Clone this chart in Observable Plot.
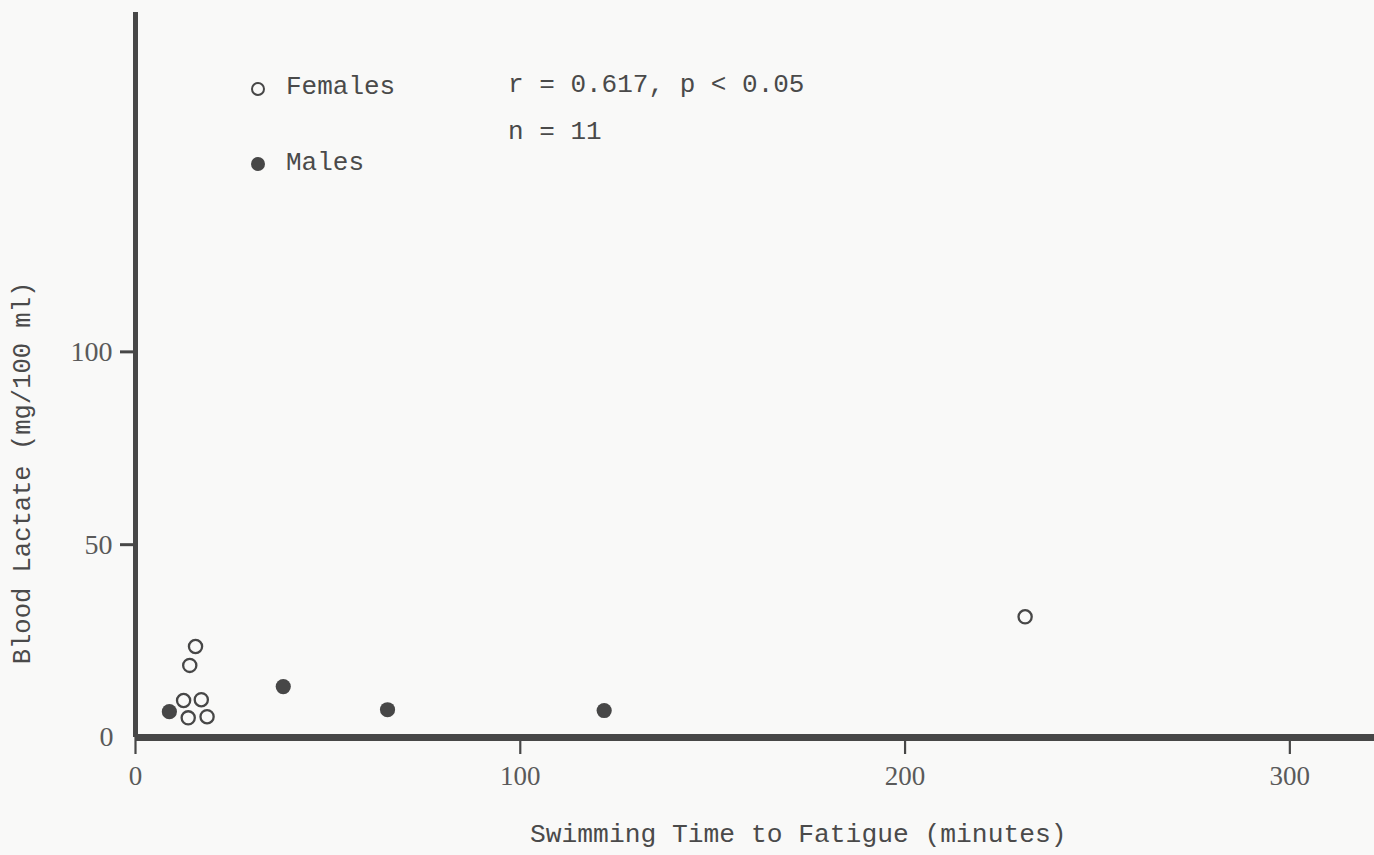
<!DOCTYPE html>
<html>
<head>
<meta charset="utf-8">
<script src="https://cdn.jsdelivr.net/npm/d3@7"></script>
<script src="https://cdn.jsdelivr.net/npm/@observablehq/plot@0.6"></script>
<style>
  html, body { margin: 0; padding: 0; background: #f9f9f8; }
  #wrap { position: relative; width: 1374px; height: 855px; overflow: hidden; }
  .note { position: absolute; font-family: "Liberation Mono", monospace; font-size: 26px; color: #4a4a4a; white-space: pre; line-height: 1; }
  .sym { position: absolute; border-radius: 50%; box-sizing: border-box; }
</style>
</head>
<body>
<div id="wrap"></div>
<script>
// Data
const femalesTime = [15.6, 14.1, 12.5, 17.1, 13.7, 18.6, 231.2];
const femalesLactate = [23.6, 18.7, 9.6, 9.8, 5.1, 5.4, 31.3];
const malesTime = [8.8, 38.4, 65.5, 121.8];
const malesLactate = [6.7, 13.2, 7.2, 7.0];
const xTicks = [0, 100, 200, 300];
const yTicks = [50, 100];
const legendLabels = ["Females", "Males"];
const statsText = ["r = 0.617, p < 0.05", "n = 11"];
const xTitle = "Swimming Time to Fatigue (minutes)";
const yTitle = "Blood Lactate (mg/100 ml)";

const females = femalesTime.map((t, i) => ({t, l: femalesLactate[i]}));
const males = malesTime.map((t, i) => ({t, l: malesLactate[i]}));

const ink = "#474747";
const tickInk = "#5a5a5a";
const chart = Plot.plot({
  width: 1374,
  height: 855,
  marginLeft: 135,
  marginRight: 0,
  marginTop: 12,
  marginBottom: 118,
  style: {background: "transparent", overflow: "visible"},
  x: {domain: [0, 322]},
  y: {domain: [0, 188]},
  marks: [
    Plot.axisX({ticks: xTicks, tickSize: 17, tickPadding: 11, tickFormat: d => String(d), strokeWidth: 2.2, stroke: ink,
      fontFamily: "Liberation Serif", fontSize: 27, fill: tickInk, label: null}),
    Plot.axisY({ticks: yTicks, tickSize: 15, tickPadding: 8, tickFormat: d => String(d), strokeWidth: 3, stroke: ink,
      fontFamily: "Liberation Serif", fontSize: 28, fill: tickInk, label: null}),
    Plot.axisY({ticks: [0], tickSize: 0, tickPadding: 22, tickFormat: d => String(d),
      fontFamily: "Liberation Serif", fontSize: 28, fill: tickInk, label: null}),
    Plot.ruleY([0], {stroke: ink, strokeWidth: 7}),
    Plot.ruleX([0], {y1: 0, y2: 188, stroke: ink, strokeWidth: 5}),
    Plot.dot(females, {x: "t", y: "l", r: 6.6, stroke: ink, strokeWidth: 2.3, fill: "none"}),
    Plot.dot(males, {x: "t", y: "l", r: 7.6, fill: ink, stroke: "none"})
  ]
});
const wrap = document.getElementById("wrap");
wrap.appendChild(chart);

// Legend, statistics and axis titles (overlay text)
function addNote(text, left, top, rotate) {
  const d = document.createElement("div");
  d.className = "note"; d.textContent = text;
  d.style.left = left + "px"; d.style.top = top + "px";
  if (rotate) { d.style.transform = "translate(-50%, -50%) rotate(-90deg)"; }
  wrap.appendChild(d);
  return d;
}
function addSym(filled, cx, cy, r) {
  const s = document.createElement("div");
  s.className = "sym";
  s.style.left = (cx - r) + "px"; s.style.top = (cy - r) + "px";
  s.style.width = (2 * r) + "px"; s.style.height = (2 * r) + "px";
  if (filled) s.style.background = ink; else s.style.border = "2px solid " + ink;
  wrap.appendChild(s);
}
addSym(false, 258, 89, 7);
addNote(legendLabels[0], 286, 74);
addSym(true, 258, 164, 7);
addNote(legendLabels[1], 286, 150);
addNote(statsText[0], 508, 72);
addNote(statsText[1], 508, 119);
const xt = addNote(xTitle, 530, 822);
xt.style.fontSize = "26.3px";
const yt = addNote(yTitle, 24, 473, true);
yt.style.fontSize = "25.5px";
</script>
</body>
</html>
